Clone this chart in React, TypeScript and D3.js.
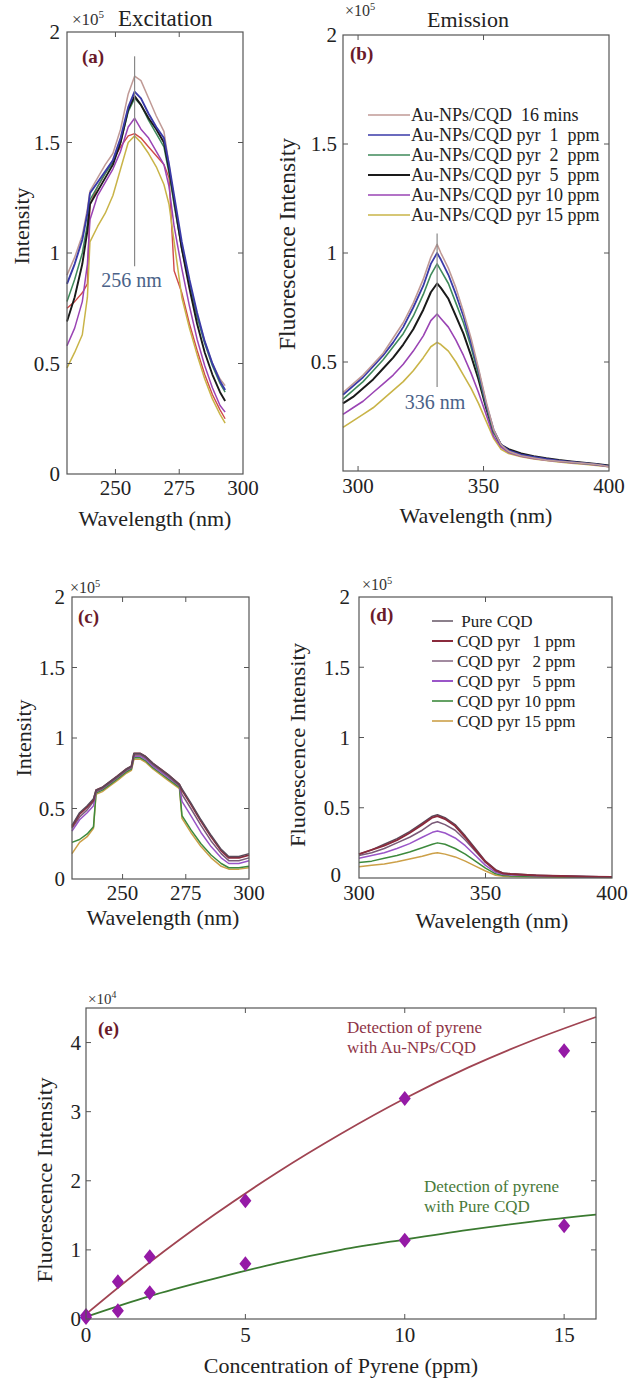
import React from 'react';
import * as d3 from 'd3';

const FONT = '"Liberation Serif", "Times New Roman", serif';

// ---------- (a) Excitation, Au-NPs/CQD ----------
const excWl = [231, 234, 237, 239, 240, 243, 246, 249, 252, 255, 257.5, 260, 263, 266, 269, 271, 273, 276, 279, 282, 285, 288, 291, 293];
const excRosy = [0.90, 0.98, 1.08, 1.20, 1.28, 1.34, 1.40, 1.45, 1.56, 1.72, 1.80, 1.78, 1.70, 1.62, 1.55, 1.40, 1.22, 1.02, 0.86, 0.72, 0.60, 0.50, 0.43, 0.40];
const excBlue = [0.86, 0.95, 1.06, 1.18, 1.27, 1.32, 1.37, 1.42, 1.52, 1.66, 1.73, 1.70, 1.63, 1.57, 1.52, 1.40, 1.26, 1.05, 0.88, 0.73, 0.60, 0.50, 0.42, 0.38];
const excGreen = [0.78, 0.88, 1.00, 1.13, 1.24, 1.30, 1.36, 1.41, 1.50, 1.64, 1.70, 1.67, 1.60, 1.54, 1.48, 1.36, 1.22, 1.02, 0.86, 0.71, 0.59, 0.49, 0.41, 0.37];
const excBlack = [0.69, 0.80, 0.95, 1.10, 1.22, 1.28, 1.34, 1.40, 1.50, 1.65, 1.71, 1.67, 1.61, 1.56, 1.50, 1.38, 1.24, 1.02, 0.84, 0.68, 0.55, 0.45, 0.37, 0.33];
const excPurple = [0.58, 0.66, 0.78, 0.95, 1.15, 1.26, 1.32, 1.38, 1.46, 1.57, 1.61, 1.56, 1.52, 1.46, 1.40, 1.30, 1.12, 0.93, 0.76, 0.61, 0.49, 0.39, 0.31, 0.28];
const excYellow = [0.48, 0.55, 0.63, 0.80, 1.05, 1.12, 1.18, 1.26, 1.38, 1.50, 1.53, 1.50, 1.45, 1.39, 1.31, 1.22, 1.05, 0.80, 0.66, 0.54, 0.43, 0.34, 0.27, 0.23];
const excRed = [0.75, 0.78, 0.82, 0.86, 1.22, 1.30, 1.36, 1.42, 1.48, 1.53, 1.54, 1.52, 1.48, 1.44, 1.40, 1.34, 0.92, 0.82, 0.68, 0.56, 0.45, 0.36, 0.29, 0.25];

// ---------- (b) Emission, Au-NPs/CQD ----------
const emiWl = [294, 298, 302, 306, 310, 314, 318, 322, 326, 329, 331.5, 333, 336, 339, 342, 345, 348, 351, 354, 357, 360, 365, 370, 375, 380, 385, 390, 395, 400];
const emiRosy = [0.36, 0.40, 0.44, 0.49, 0.54, 0.61, 0.68, 0.77, 0.88, 0.98, 1.04, 1.00, 0.93, 0.84, 0.73, 0.61, 0.47, 0.32, 0.19, 0.12, 0.09, 0.07, 0.06, 0.05, 0.045, 0.04, 0.035, 0.03, 0.02];
const emiBlue = [0.35, 0.39, 0.43, 0.48, 0.53, 0.59, 0.66, 0.75, 0.85, 0.95, 1.00, 0.97, 0.90, 0.81, 0.71, 0.59, 0.46, 0.31, 0.19, 0.12, 0.095, 0.075, 0.065, 0.055, 0.048, 0.042, 0.036, 0.03, 0.022];
const emiGreen = [0.33, 0.37, 0.41, 0.46, 0.51, 0.57, 0.63, 0.71, 0.81, 0.90, 0.95, 0.92, 0.86, 0.77, 0.68, 0.57, 0.44, 0.30, 0.18, 0.12, 0.09, 0.072, 0.062, 0.053, 0.046, 0.04, 0.035, 0.03, 0.022];
const emiBlack = [0.31, 0.34, 0.38, 0.42, 0.47, 0.52, 0.58, 0.65, 0.74, 0.82, 0.86, 0.84, 0.79, 0.71, 0.63, 0.53, 0.42, 0.29, 0.18, 0.12, 0.10, 0.08, 0.068, 0.058, 0.05, 0.044, 0.038, 0.032, 0.025];
const emiPurple = [0.26, 0.29, 0.32, 0.36, 0.40, 0.44, 0.49, 0.55, 0.62, 0.69, 0.72, 0.70, 0.66, 0.60, 0.53, 0.45, 0.36, 0.26, 0.16, 0.11, 0.085, 0.068, 0.058, 0.05, 0.044, 0.038, 0.033, 0.028, 0.02];
const emiYellow = [0.20, 0.23, 0.26, 0.29, 0.33, 0.37, 0.41, 0.46, 0.52, 0.57, 0.59, 0.58, 0.55, 0.50, 0.44, 0.38, 0.31, 0.23, 0.15, 0.10, 0.08, 0.065, 0.055, 0.048, 0.042, 0.036, 0.031, 0.026, 0.02];

const legendB = ['Au-NPs/CQD  16 mins', 'Au-NPs/CQD pyr  1  ppm', 'Au-NPs/CQD pyr  2  ppm', 'Au-NPs/CQD pyr  5  ppm', 'Au-NPs/CQD pyr 10 ppm', 'Au-NPs/CQD pyr 15 ppm'];

// ---------- (c) Excitation, pure CQD ----------
const cWl = [230, 233, 236, 238.5, 239.5, 242, 245, 248, 251.5, 253.5, 254.5, 257, 259, 262, 265, 268, 272.5, 273.5, 277, 281, 285, 289, 292, 296, 300];
const cPure = [0.38, 0.47, 0.52, 0.57, 0.63, 0.65, 0.69, 0.73, 0.78, 0.80, 0.89, 0.89, 0.87, 0.82, 0.78, 0.74, 0.67, 0.64, 0.54, 0.42, 0.31, 0.21, 0.16, 0.16, 0.18];
const c1 = [0.37, 0.46, 0.51, 0.56, 0.63, 0.65, 0.69, 0.73, 0.78, 0.80, 0.89, 0.89, 0.87, 0.82, 0.78, 0.74, 0.67, 0.63, 0.53, 0.41, 0.30, 0.20, 0.15, 0.15, 0.17];
const c2 = [0.36, 0.44, 0.49, 0.55, 0.62, 0.64, 0.68, 0.72, 0.77, 0.79, 0.88, 0.88, 0.86, 0.81, 0.77, 0.73, 0.66, 0.60, 0.50, 0.38, 0.27, 0.18, 0.13, 0.13, 0.15];
const c5 = [0.34, 0.42, 0.47, 0.52, 0.62, 0.64, 0.68, 0.72, 0.77, 0.79, 0.87, 0.87, 0.85, 0.80, 0.76, 0.72, 0.66, 0.55, 0.45, 0.33, 0.23, 0.15, 0.11, 0.11, 0.13];
const c10 = [0.26, 0.28, 0.32, 0.37, 0.61, 0.63, 0.67, 0.71, 0.76, 0.78, 0.86, 0.86, 0.84, 0.79, 0.75, 0.71, 0.65, 0.45, 0.35, 0.25, 0.17, 0.11, 0.08, 0.08, 0.09];
const c15 = [0.18, 0.26, 0.30, 0.36, 0.60, 0.62, 0.66, 0.70, 0.75, 0.77, 0.85, 0.85, 0.83, 0.78, 0.74, 0.70, 0.64, 0.43, 0.33, 0.23, 0.15, 0.09, 0.07, 0.07, 0.08];

// ---------- (d) Emission, pure CQD ----------
const dWl = [300, 305, 310, 315, 320, 325, 329, 331, 334, 338, 342, 346, 350, 354, 357, 360, 365, 370, 380, 390, 400];
const dPure = [0.17, 0.20, 0.24, 0.28, 0.33, 0.39, 0.44, 0.45, 0.43, 0.38, 0.30, 0.21, 0.12, 0.06, 0.035, 0.03, 0.025, 0.02, 0.015, 0.01, 0.008];
const d1 = [0.17, 0.20, 0.23, 0.27, 0.32, 0.38, 0.43, 0.44, 0.42, 0.37, 0.29, 0.20, 0.115, 0.055, 0.033, 0.028, 0.023, 0.019, 0.014, 0.01, 0.008];
const d2 = [0.16, 0.18, 0.21, 0.25, 0.29, 0.34, 0.39, 0.40, 0.38, 0.34, 0.27, 0.19, 0.11, 0.05, 0.03, 0.026, 0.022, 0.018, 0.013, 0.01, 0.008];
const d5 = [0.14, 0.16, 0.18, 0.21, 0.245, 0.29, 0.325, 0.335, 0.32, 0.285, 0.23, 0.16, 0.09, 0.04, 0.025, 0.022, 0.019, 0.016, 0.012, 0.009, 0.007];
const d10 = [0.11, 0.12, 0.14, 0.16, 0.185, 0.215, 0.24, 0.25, 0.24, 0.21, 0.17, 0.12, 0.07, 0.03, 0.018, 0.015, 0.013, 0.011, 0.009, 0.007, 0.005];
const d15 = [0.08, 0.09, 0.10, 0.115, 0.135, 0.155, 0.175, 0.18, 0.17, 0.15, 0.12, 0.085, 0.05, 0.02, 0.012, 0.01, 0.009, 0.008, 0.006, 0.005, 0.004];

const legendD = [' Pure CQD', 'CQD pyr   1 ppm', 'CQD pyr   2 ppm', 'CQD pyr   5 ppm', 'CQD pyr 10 ppm', 'CQD pyr 15 ppm'];

// ---------- (e) Calibration ----------
const conc = [0, 1, 2, 5, 10, 15];
const auPoints = [0.05, 0.54, 0.90, 1.71, 3.19, 3.88];
const purePoints = [0.02, 0.12, 0.38, 0.80, 1.14, 1.35];
const fitX = [0, 2, 4, 6, 8, 10, 12, 14, 16];
const auFit = [0.07, 0.82, 1.50, 2.12, 2.68, 3.19, 3.64, 4.03, 4.37];
const pureFit = [0.03, 0.33, 0.58, 0.81, 1.00, 1.15, 1.29, 1.41, 1.51];

// colours
const C_ROSY = '#c09a96';
const C_BLUE = '#3a3aa8';
const C_GREEN = '#3f8a5a';
const C_BLACK = '#1a1a1a';
const C_PURPLE = '#9a44b4';
const C_YELLOW = '#c9b448';
const C_RED = '#d04a4a';
const D_PURE = '#5a4a5a';
const D_1 = '#8a2a3c';
const D_2 = '#7a5a78';
const D_5 = '#9a55c8';
const D_10 = '#3d8a3d';
const D_15 = '#cca048';
const AXIS = '#555';
const LABEL_RED = '#6a1a2a';

type S = { v: number[]; c: string; w: number };

const sA = { x: d3.scaleLinear().domain([231, 300]).range([67, 243]), y: d3.scaleLinear().domain([0, 2]).range([474, 32]) };
const sB = { x: d3.scaleLinear().domain([294, 400]).range([343, 609]), y: d3.scaleLinear().domain([0, 2]).range([471, 35]) };
const sC = { x: d3.scaleLinear().domain([230, 300]).range([72, 249]), y: d3.scaleLinear().domain([0, 2]).range([879, 597]) };
const sD = { x: d3.scaleLinear().domain([300, 400]).range([359, 612]), y: d3.scaleLinear().domain([0, 2]).range([878, 597]) };
const sE = { x: d3.scaleLinear().domain([0, 16]).range([86, 596]), y: d3.scaleLinear().domain([0, 4.5]).range([1319, 1008]) };

function Lines({ sc, xs, series }: { sc: any; xs: number[]; series: S[] }) {
  const gen = d3.line<number>().x((_, i) => sc.x(xs[i])).y((d) => sc.y(d));
  return (
    <g>
      {series.map((s, i) => (
        <path key={i} d={gen(s.v) || ''} fill="none" stroke={s.c} strokeWidth={s.w} strokeLinejoin="round" />
      ))}
    </g>
  );
}

function Frame({ sc, xTicks, yTicks, xLabels, yLabels, xLabBase, yLabRight, fs = 21, tl = 5 }: any) {
  const [xa, xb] = sc.x.range();
  const [yb, ya] = sc.y.range();
  return (
    <g fontFamily={FONT}>
      <rect x={xa} y={ya} width={xb - xa} height={yb - ya} fill="none" stroke={AXIS} strokeWidth={1.2} />
      {xTicks.map((t: number) => (
        <g key={'xt' + t} stroke={AXIS} strokeWidth={1}>
          <line x1={sc.x(t)} x2={sc.x(t)} y1={yb} y2={yb - tl} />
          <line x1={sc.x(t)} x2={sc.x(t)} y1={ya} y2={ya + tl} />
        </g>
      ))}
      {yTicks.map((t: number) => (
        <g key={'yt' + t} stroke={AXIS} strokeWidth={1}>
          <line x1={xa} x2={xa + tl} y1={sc.y(t)} y2={sc.y(t)} />
          <line x1={xb} x2={xb - tl} y1={sc.y(t)} y2={sc.y(t)} />
        </g>
      ))}
      {xLabels.map((t: number) => (
        <text key={'xl' + t} x={sc.x(t)} y={xLabBase} textAnchor="middle" fontSize={fs} fill="#222">
          {String(t)}
        </text>
      ))}
      {yLabels.map((t: number) => (
        <text key={'yl' + t} x={yLabRight} y={sc.y(t)} dy="0.35em" textAnchor="end" fontSize={fs} fill="#222">
          {String(t)}
        </text>
      ))}
    </g>
  );
}

function Exp({ x, y, p, fs = 16 }: { x: number; y: number; p: string; fs?: number }) {
  return (
    <text x={x} y={y} fontFamily={FONT} fontSize={fs} fill="#333">
      ×10<tspan fontSize={fs * 0.65} dy={-fs * 0.4}>{p}</tspan>
    </text>
  );
}

function YLabel({ x, y, text, fs = 22, len }: { x: number; y: number; text: string; fs?: number; len?: number }) {
  return (
    <text transform={`translate(${x},${y}) rotate(-90)`} textAnchor="middle" fontFamily={FONT} fontSize={fs} fill="#222"
      {...(len ? { textLength: len, lengthAdjust: 'spacingAndGlyphs' } : {})}>
      {text}
    </text>
  );
}

function Legend({ x1, x2, tx, y0, dy, items, colors, widths, fs }: any) {
  return (
    <g fontFamily={FONT} fontSize={fs} fill="#222">
      {items.map((t: string, i: number) => (
        <g key={i}>
          <line x1={x1} x2={x2} y1={y0 + i * dy} y2={y0 + i * dy} stroke={colors[i]} strokeWidth={widths[i]} />
          <text x={tx} y={y0 + i * dy} dy="0.33em" style={{ whiteSpace: 'pre' }}>{t}</text>
        </g>
      ))}
    </g>
  );
}

export default function App() {
  const seriesA: S[] = [
    { v: excRosy, c: C_ROSY, w: 1.5 },
    { v: excRed, c: C_RED, w: 1.4 },
    { v: excYellow, c: C_YELLOW, w: 1.5 },
    { v: excPurple, c: C_PURPLE, w: 1.5 },
    { v: excGreen, c: C_GREEN, w: 1.5 },
    { v: excBlack, c: C_BLACK, w: 1.9 },
    { v: excBlue, c: C_BLUE, w: 1.9 },
  ];
  const seriesB: S[] = [
    { v: emiYellow, c: C_YELLOW, w: 1.6 },
    { v: emiPurple, c: C_PURPLE, w: 1.6 },
    { v: emiBlack, c: C_BLACK, w: 2 },
    { v: emiGreen, c: C_GREEN, w: 1.6 },
    { v: emiBlue, c: C_BLUE, w: 1.8 },
    { v: emiRosy, c: C_ROSY, w: 1.6 },
  ];
  const seriesC: S[] = [
    { v: c15, c: D_15, w: 1.5 },
    { v: c10, c: D_10, w: 1.5 },
    { v: c5, c: D_5, w: 1.5 },
    { v: c2, c: D_2, w: 1.5 },
    { v: c1, c: D_1, w: 1.8 },
    { v: cPure, c: D_PURE, w: 1.5 },
  ];
  const seriesD: S[] = [
    { v: d15, c: D_15, w: 1.5 },
    { v: d10, c: D_10, w: 1.5 },
    { v: d5, c: D_5, w: 1.5 },
    { v: d2, c: D_2, w: 1.5 },
    { v: dPure, c: D_PURE, w: 1.5 },
    { v: d1, c: D_1, w: 1.9 },
  ];
  const fitLine = d3.line<number>().x((_, i) => sE.x(fitX[i])).y((d) => sE.y(d)).curve(d3.curveMonotoneX);
  const diamond = (cx: number, cy: number) => `M${cx},${cy - 7.5}L${cx + 6},${cy}L${cx},${cy + 7.5}L${cx - 6},${cy}Z`;

  const excPeak = 257.5;
  const emiPeak = 331.5;

  return (
    <svg width={637} height={1381} viewBox="0 0 637 1381" style={{ position: 'absolute', left: 0, top: 0, background: '#fff' }}>
      <rect x={0} y={0} width={637} height={1381} fill="#fff" />

      {/* ---------- (a) ---------- */}
      <Lines sc={sA} xs={excWl} series={seriesA} />
      <line x1={sA.x(excPeak)} x2={sA.x(excPeak)} y1={sA.y(1.89)} y2={sA.y(0.94)} stroke="#888" strokeWidth={1.2} />
      <text x={sA.x(excPeak) - 3} y={287} textAnchor="middle" fontFamily={FONT} fontSize={20} fill="#4a6288">256 nm</text>
      <Frame sc={sA} xTicks={[250, 275]} yTicks={[0.5, 1, 1.5]} xLabels={[250, 275, 300]} yLabels={[0, 0.5, 1, 1.5, 2]} xLabBase={495} yLabRight={60} />
      <Exp x={72} y={25} p="5" fs={17} />
      <text x={118} y={26} fontFamily={FONT} fontSize={23} fill="#222">Excitation</text>
      <text x={82} y={63} fontFamily={FONT} fontSize={19} fontWeight="bold" fill={LABEL_RED}>(a)</text>
      <YLabel x={29} y={226} text="Intensity" fs={22} />
      <text x={155} y={526} textAnchor="middle" fontFamily={FONT} fontSize={22} fill="#222">Wavelength (nm)</text>

      {/* ---------- (b) ---------- */}
      <Lines sc={sB} xs={emiWl} series={seriesB} />
      <line x1={sB.x(emiPeak)} x2={sB.x(emiPeak)} y1={sB.y(1.09)} y2={sB.y(0.385)} stroke="#888" strokeWidth={1.2} />
      <text x={sB.x(emiPeak) - 2} y={409} textAnchor="middle" fontFamily={FONT} fontSize={20} fill="#4a6288">336 nm</text>
      <Frame sc={sB} xTicks={[300, 350]} yTicks={[0.5, 1, 1.5]} xLabels={[300, 350, 400]} yLabels={[0.5, 1, 1.5, 2]} xLabBase={493} yLabRight={337} />
      <Exp x={345} y={16} p="5" fs={16} />
      <text x={427} y={27} fontFamily={FONT} fontSize={22} fill="#222">Emission</text>
      <text x={350} y={60} fontFamily={FONT} fontSize={19} fontWeight="bold" fill={LABEL_RED}>(b)</text>
      <Legend x1={368} x2={410} tx={411} y0={115} dy={20} items={legendB} fs={18}
        colors={[C_ROSY, C_BLUE, C_GREEN, C_BLACK, C_PURPLE, C_YELLOW]} widths={[1.4, 1.4, 1.4, 2, 1.4, 1.4]} />
      <YLabel x={295} y={244} text="Fluorescence Intensity" fs={23} len={212} />
      <text x={476} y={523} textAnchor="middle" fontFamily={FONT} fontSize={22} fill="#222">Wavelength (nm)</text>

      {/* ---------- (c) ---------- */}
      <Lines sc={sC} xs={cWl} series={seriesC} />
      <Frame sc={sC} xTicks={[250, 275]} yTicks={[0.5, 1, 1.5]} xLabels={[250, 275, 300]} yLabels={[0, 0.5, 1, 1.5, 2]} xLabBase={900} yLabRight={65} />
      <Exp x={70} y={593} p="5" fs={16} />
      <text x={78} y={623} fontFamily={FONT} fontSize={19} fontWeight="bold" fill={LABEL_RED}>(c)</text>
      <YLabel x={31} y={738} text="Intensity" fs={22} />
      <text x={163} y={925} textAnchor="middle" fontFamily={FONT} fontSize={22} fill="#222">Wavelength (nm)</text>

      {/* ---------- (d) ---------- */}
      <Lines sc={sD} xs={dWl} series={seriesD} />
      <Frame sc={sD} xTicks={[350]} yTicks={[0.5, 1, 1.5]} xLabels={[300, 350, 400]} yLabels={[0.5, 1, 1.5, 2]} xLabBase={900} yLabRight={350} />
      <text x={341} y={sD.y(0)} dy="0.2em" textAnchor="end" fontFamily={FONT} fontSize={21} fill="#222">0</text>
      <Exp x={362} y={590} p="5" fs={16} />
      <text x={370} y={621} fontFamily={FONT} fontSize={19} fontWeight="bold" fill={LABEL_RED}>(d)</text>
      <Legend x1={432} x2={453} tx={457} y0={621} dy={20} items={legendD} fs={17}
        colors={[D_PURE, D_1, D_2, D_5, D_10, D_15]} widths={[1.4, 2, 1.4, 2, 1.6, 1.6]} />
      <YLabel x={305} y={745} text="Fluorescence Intensity" fs={22} len={204} />
      <text x={492} y={928} textAnchor="middle" fontFamily={FONT} fontSize={22} fill="#222">Wavelength (nm)</text>

      {/* ---------- (e) ---------- */}
      <path d={fitLine(auFit) || ''} fill="none" stroke="#a04452" strokeWidth={1.8} />
      <path d={fitLine(pureFit) || ''} fill="none" stroke="#3a7a30" strokeWidth={1.8} />
      {conc.map((c, i) => (
        <path key={'au' + i} d={diamond(sE.x(c), sE.y(auPoints[i]))} fill="#951aa6" />
      ))}
      {conc.map((c, i) => (
        <path key={'pu' + i} d={diamond(sE.x(c), sE.y(purePoints[i]))} fill="#951aa6" />
      ))}
      <Frame sc={sE} xTicks={[5, 10, 15]} yTicks={[1, 2, 3, 4]} xLabels={[0, 5, 10, 15]} yLabels={[0, 1, 2, 3, 4]} xLabBase={1342} yLabRight={81} fs={21} />
      <Exp x={88} y={1004} p="4" fs={15} />
      <text x={98} y={1035} fontFamily={FONT} fontSize={19} fontWeight="bold" fill={LABEL_RED}>(e)</text>
      <g fontFamily={FONT} fontSize={17}>
        <text x={347} y={1033} fill="#8e3446">Detection of pyrene</text>
        <text x={347} y={1053} fill="#8e3446">with Au-NPs/CQD</text>
        <text x={424} y={1192} fill="#4a7a3a">Detection of pyrene</text>
        <text x={424} y={1212} fill="#4a7a3a">with Pure CQD</text>
      </g>
      <YLabel x={52} y={1180} text="Fluorescence Intensity" fs={22} len={205} />
      <text x={341} y={1373} textAnchor="middle" fontFamily={FONT} fontSize={22} fill="#222">Concentration of Pyrene (ppm)</text>
    </svg>
  );
}
